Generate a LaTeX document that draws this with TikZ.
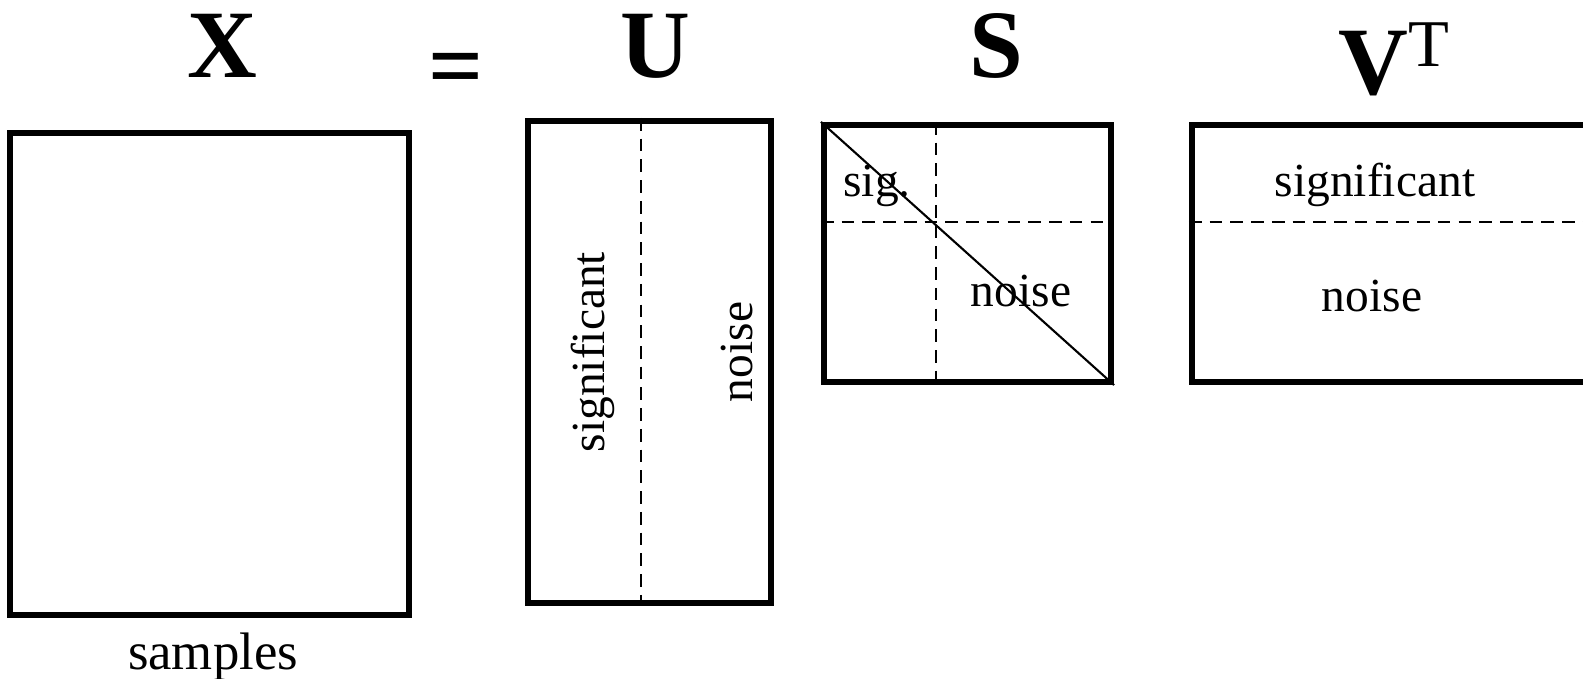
\documentclass[tikz,border=0pt]{standalone}
\usepackage{fontspec}
\setmainfont{Liberation Serif}
\usetikzlibrary{positioning}
\tikzset{
	matbox/.style={draw, line width=1.75pt, inner sep=0pt}
}
\tikzset{
	divider/.style={line width=0.5pt, dash pattern=on 3.6pt off 2.3pt}
}
\tikzset{
	bigletter/.style={font=\fontsize{27.5}{30}\selectfont\bfseries, inner sep=0pt},
	celltext/.style={font=\fontsize{13.5}{16}\selectfont, inner sep=0pt},
	axistext/.style={font=\fontsize{15}{18}\selectfont, inner sep=0pt}
}

\begin{document}
\begin{tikzpicture}
      \useasboundingbox (0,0) rectangle (15.83,6.79);

      % the four matrices
      \node[matbox, minimum width=3.99cm, minimum height=4.82cm] (X) at (2.095,3.05) {};
      \node[matbox, minimum width=2.43cm, minimum height=4.82cm] (U) at (6.495,3.17) {};
      \node[matbox, minimum width=2.87cm, minimum height=2.57cm] (S) at (9.675,4.255) {};
      \node[matbox, minimum width=4.5cm, minimum height=2.57cm] (V) at (14.17,4.255) {};

      % names above them
      \node[bigletter, anchor=base] (xname) at (2.22,6.01) {X};
      \node[bigletter, anchor=center] (eq) at (4.56,6.03) {=};
      \node[bigletter, anchor=base] (uname) at (6.55,6.01) {U};
      \node[bigletter, anchor=base] (sname) at (9.96,6.01) {S};
      \node[bigletter, anchor=base west] (vname) at (13.38,5.84)
        {V\raisebox{0.28cm}{\fontsize{19}{20}\selectfont\mdseries T}};

      % split of U into columns
      \coordinate (usplit) at (6.41,3.17);
      \draw[divider] (usplit |- U.north) -- (usplit |- U.south);
      \node[celltext, rotate=90, anchor=base] (usig) at (6.04,3.27) {significant};
      \node[celltext, rotate=90, anchor=base] (unoise) at (7.52,3.27) {noise};

      % S is diagonal, split in four
      \coordinate (ssplit) at (9.36,4.57);
      \draw[divider] (ssplit |- S.north) -- (ssplit |- S.south);
      \draw[divider] (ssplit -| S.west) -- (ssplit -| S.east);
      \draw[line width=0.6pt] (S.north west) -- (S.south east);
      \node[celltext, anchor=base] (ssig) at (8.77,4.82) {sig.};
      \node[celltext, anchor=base] (snoise) at (10.21,3.72) {noise};

      % split of V into rows
      \coordinate (vsplit) at (11.92,4.57);
      \draw[divider] (vsplit -| V.west) -- (vsplit -| V.east);
      \node[celltext, anchor=base] (vsig) at (13.75,4.82) {significant};
      \node[celltext, anchor=base] (vnoise) at (13.72,3.67) {noise};

      \node[axistext, anchor=base] (samples) at (2.13,0.09) {samples};
    \end{tikzpicture}
\end{document}
